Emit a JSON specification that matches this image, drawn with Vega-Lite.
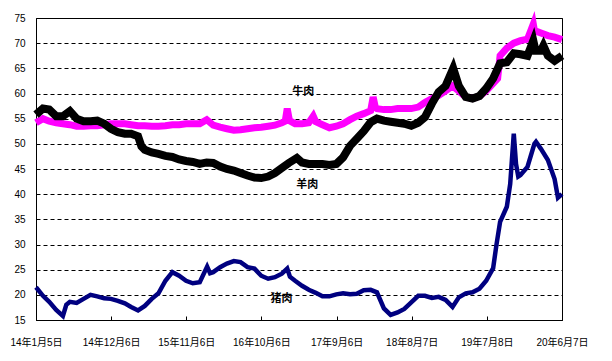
{
  "$schema": "https://vega.github.io/schema/vega-lite/v6.json",
  "width": 526,
  "height": 302,
  "autosize": "none",
  "padding": {"left": 36, "top": 18, "right": 50, "bottom": 41},
  "background": "white",
  "config": {
    "view": {"stroke": "black", "strokeWidth": 1},
    "axis": {
      "labelFont": "Liberation Sans, Noto Sans CJK SC",
      "labelFontSize": 10,
      "labelColor": "black",
      "domainColor": "black",
      "tickColor": "black",
      "title": null
    }
  },
  "datasets": {
    "beef": [
      {"date": "2014/01/05", "price": 54.2}, {"date": "2014/02/05", "price": 55}, {"date": "2014/03/05", "price": 54.5},
      {"date": "2014/04/05", "price": 54.2}, {"date": "2014/05/05", "price": 54}, {"date": "2014/06/05", "price": 53.8},
      {"date": "2014/07/05", "price": 53.5}, {"date": "2014/08/05", "price": 53.5}, {"date": "2014/09/05", "price": 53.6},
      {"date": "2014/10/05", "price": 53.6}, {"date": "2014/11/05", "price": 53.8}, {"date": "2014/12/05", "price": 54},
      {"date": "2015/01/05", "price": 54}, {"date": "2015/02/05", "price": 54}, {"date": "2015/03/05", "price": 53.8},
      {"date": "2015/04/05", "price": 53.6}, {"date": "2015/05/05", "price": 53.6}, {"date": "2015/06/05", "price": 53.5},
      {"date": "2015/07/05", "price": 53.5}, {"date": "2015/08/05", "price": 53.6}, {"date": "2015/09/05", "price": 53.8},
      {"date": "2015/10/05", "price": 53.8}, {"date": "2015/11/05", "price": 54}, {"date": "2015/12/05", "price": 54},
      {"date": "2016/01/05", "price": 54}, {"date": "2016/02/05", "price": 54.8}, {"date": "2016/03/05", "price": 53.7},
      {"date": "2016/04/05", "price": 53.3}, {"date": "2016/05/05", "price": 53}, {"date": "2016/06/05", "price": 52.7},
      {"date": "2016/07/05", "price": 52.8}, {"date": "2016/08/05", "price": 53}, {"date": "2016/09/05", "price": 53.2},
      {"date": "2016/10/05", "price": 53.3}, {"date": "2016/11/05", "price": 53.5}, {"date": "2016/12/05", "price": 53.7},
      {"date": "2017/01/05", "price": 54.2}, {"date": "2017/01/20", "price": 54.5}, {"date": "2017/01/29", "price": 57},
      {"date": "2017/02/08", "price": 54.6}, {"date": "2017/03/05", "price": 54}, {"date": "2017/04/05", "price": 54},
      {"date": "2017/05/05", "price": 54.2}, {"date": "2017/05/25", "price": 55.5}, {"date": "2017/06/05", "price": 54.4},
      {"date": "2017/07/05", "price": 53.8}, {"date": "2017/08/05", "price": 53.2}, {"date": "2017/09/05", "price": 53.5},
      {"date": "2017/10/05", "price": 54}, {"date": "2017/11/05", "price": 54.8}, {"date": "2017/12/05", "price": 55.5},
      {"date": "2018/01/05", "price": 56}, {"date": "2018/02/05", "price": 56.6}, {"date": "2018/02/16", "price": 59.3},
      {"date": "2018/02/26", "price": 57.2}, {"date": "2018/03/05", "price": 57}, {"date": "2018/04/05", "price": 56.8},
      {"date": "2018/05/05", "price": 56.8}, {"date": "2018/06/05", "price": 57}, {"date": "2018/07/05", "price": 57},
      {"date": "2018/08/05", "price": 57}, {"date": "2018/09/05", "price": 57.3}, {"date": "2018/10/05", "price": 58.2},
      {"date": "2018/11/05", "price": 59}, {"date": "2018/12/05", "price": 59.6}, {"date": "2019/01/05", "price": 60.5},
      {"date": "2019/02/05", "price": 61.5}, {"date": "2019/03/05", "price": 60.5}, {"date": "2019/04/05", "price": 59.3},
      {"date": "2019/05/05", "price": 59}, {"date": "2019/06/05", "price": 59.5}, {"date": "2019/07/05", "price": 60.5},
      {"date": "2019/08/05", "price": 62}, {"date": "2019/08/25", "price": 63}, {"date": "2019/09/05", "price": 67.5},
      {"date": "2019/10/05", "price": 69}, {"date": "2019/11/05", "price": 70}, {"date": "2019/12/05", "price": 70.5},
      {"date": "2020/01/05", "price": 70.8}, {"date": "2020/01/31", "price": 73.8}, {"date": "2020/02/05", "price": 72.5},
      {"date": "2020/03/05", "price": 72}, {"date": "2020/04/05", "price": 71.5}, {"date": "2020/05/05", "price": 71.2},
      {"date": "2020/06/07", "price": 70.7}
    ],
    "mutton": [
      {"date": "2014/01/05", "price": 55.8}, {"date": "2014/02/05", "price": 57}, {"date": "2014/03/05", "price": 56.8},
      {"date": "2014/04/05", "price": 55.5}, {"date": "2014/05/05", "price": 55.5}, {"date": "2014/06/05", "price": 56.5},
      {"date": "2014/07/05", "price": 55}, {"date": "2014/08/05", "price": 54.5}, {"date": "2014/09/05", "price": 54.5},
      {"date": "2014/10/05", "price": 54.6}, {"date": "2014/11/05", "price": 54}, {"date": "2014/12/05", "price": 53},
      {"date": "2015/01/05", "price": 52.3}, {"date": "2015/02/05", "price": 52}, {"date": "2015/03/05", "price": 52},
      {"date": "2015/04/05", "price": 51.5}, {"date": "2015/04/20", "price": 49.5}, {"date": "2015/05/05", "price": 48.8},
      {"date": "2015/06/05", "price": 48.3}, {"date": "2015/07/05", "price": 48}, {"date": "2015/08/05", "price": 47.6},
      {"date": "2015/09/05", "price": 47.4}, {"date": "2015/10/05", "price": 46.9}, {"date": "2015/11/05", "price": 46.6},
      {"date": "2015/12/05", "price": 46.4}, {"date": "2016/01/05", "price": 46}, {"date": "2016/02/05", "price": 46.3},
      {"date": "2016/03/05", "price": 46.2}, {"date": "2016/04/05", "price": 45.5}, {"date": "2016/05/05", "price": 45},
      {"date": "2016/06/05", "price": 44.7}, {"date": "2016/07/05", "price": 44.2}, {"date": "2016/08/05", "price": 43.7},
      {"date": "2016/09/05", "price": 43.3}, {"date": "2016/10/05", "price": 43.2}, {"date": "2016/11/05", "price": 43.5},
      {"date": "2016/12/05", "price": 44.2}, {"date": "2017/01/05", "price": 45.2}, {"date": "2017/02/05", "price": 46.2},
      {"date": "2017/03/13", "price": 47.2}, {"date": "2017/04/05", "price": 46.3}, {"date": "2017/05/05", "price": 46},
      {"date": "2017/06/05", "price": 46}, {"date": "2017/07/05", "price": 46}, {"date": "2017/08/05", "price": 45.8},
      {"date": "2017/09/05", "price": 46}, {"date": "2017/10/05", "price": 47.3}, {"date": "2017/11/05", "price": 49.6},
      {"date": "2017/12/05", "price": 51}, {"date": "2018/01/05", "price": 52.5}, {"date": "2018/02/05", "price": 54.3},
      {"date": "2018/03/05", "price": 55}, {"date": "2018/04/05", "price": 54.6}, {"date": "2018/05/05", "price": 54.4},
      {"date": "2018/06/05", "price": 54.2}, {"date": "2018/07/05", "price": 54}, {"date": "2018/08/05", "price": 53.6},
      {"date": "2018/09/05", "price": 54.2}, {"date": "2018/10/05", "price": 55.3}, {"date": "2018/11/05", "price": 58},
      {"date": "2018/12/05", "price": 60.3}, {"date": "2019/01/05", "price": 61.5}, {"date": "2019/02/08", "price": 65},
      {"date": "2019/03/05", "price": 61.5}, {"date": "2019/04/05", "price": 59.3}, {"date": "2019/05/05", "price": 59},
      {"date": "2019/06/05", "price": 59.5}, {"date": "2019/07/05", "price": 61}, {"date": "2019/08/05", "price": 63},
      {"date": "2019/09/05", "price": 66}, {"date": "2019/10/05", "price": 66.2}, {"date": "2019/11/05", "price": 68},
      {"date": "2019/12/05", "price": 67.8}, {"date": "2020/01/05", "price": 67.5}, {"date": "2020/01/31", "price": 70.5},
      {"date": "2020/02/10", "price": 68.5}, {"date": "2020/03/05", "price": 68.5}, {"date": "2020/03/16", "price": 69.5},
      {"date": "2020/04/05", "price": 67.5}, {"date": "2020/05/05", "price": 66.5}, {"date": "2020/06/07", "price": 67.5}
    ],
    "pork": [
      {"date": "2014/01/05", "price": 21.5}, {"date": "2014/02/05", "price": 19.8}, {"date": "2014/03/05", "price": 18.6},
      {"date": "2014/04/05", "price": 17}, {"date": "2014/05/05", "price": 15.8}, {"date": "2014/05/20", "price": 18},
      {"date": "2014/06/05", "price": 18.6}, {"date": "2014/07/05", "price": 18.4}, {"date": "2014/08/05", "price": 19.2},
      {"date": "2014/09/05", "price": 20}, {"date": "2014/10/05", "price": 19.7}, {"date": "2014/11/05", "price": 19.3},
      {"date": "2014/12/05", "price": 19.2}, {"date": "2015/01/05", "price": 18.8}, {"date": "2015/02/05", "price": 18.3},
      {"date": "2015/03/05", "price": 17.6}, {"date": "2015/04/05", "price": 16.9}, {"date": "2015/05/05", "price": 17.8},
      {"date": "2015/06/05", "price": 19.2}, {"date": "2015/07/05", "price": 20.3}, {"date": "2015/08/05", "price": 22.8},
      {"date": "2015/09/05", "price": 24.5}, {"date": "2015/10/05", "price": 23.8}, {"date": "2015/11/05", "price": 22.8},
      {"date": "2015/12/05", "price": 22.3}, {"date": "2016/01/05", "price": 22.5}, {"date": "2016/02/07", "price": 25.6},
      {"date": "2016/02/20", "price": 24.3}, {"date": "2016/03/05", "price": 24.5}, {"date": "2016/04/05", "price": 25.5},
      {"date": "2016/05/05", "price": 26.2}, {"date": "2016/06/05", "price": 26.7}, {"date": "2016/07/05", "price": 26.5},
      {"date": "2016/08/05", "price": 25.5}, {"date": "2016/09/05", "price": 25.2}, {"date": "2016/10/05", "price": 23.8},
      {"date": "2016/11/05", "price": 23.2}, {"date": "2016/12/05", "price": 23.5}, {"date": "2017/01/05", "price": 24.2},
      {"date": "2017/01/29", "price": 25.2}, {"date": "2017/02/10", "price": 23.6}, {"date": "2017/03/05", "price": 22.8},
      {"date": "2017/04/05", "price": 21.8}, {"date": "2017/05/05", "price": 21}, {"date": "2017/06/05", "price": 20.4},
      {"date": "2017/07/05", "price": 19.7}, {"date": "2017/08/05", "price": 19.7}, {"date": "2017/09/05", "price": 20.1},
      {"date": "2017/10/05", "price": 20.3}, {"date": "2017/11/05", "price": 20.1}, {"date": "2017/12/05", "price": 20.2},
      {"date": "2018/01/05", "price": 20.9}, {"date": "2018/02/05", "price": 21}, {"date": "2018/03/05", "price": 20.5},
      {"date": "2018/04/05", "price": 17.3}, {"date": "2018/05/05", "price": 16}, {"date": "2018/06/05", "price": 16.5},
      {"date": "2018/07/05", "price": 17.2}, {"date": "2018/08/05", "price": 18.5}, {"date": "2018/09/05", "price": 19.8},
      {"date": "2018/10/05", "price": 19.8}, {"date": "2018/11/05", "price": 19.4}, {"date": "2018/12/05", "price": 19.6},
      {"date": "2019/01/05", "price": 19}, {"date": "2019/02/05", "price": 17.6}, {"date": "2019/03/05", "price": 19.5},
      {"date": "2019/04/05", "price": 20.3}, {"date": "2019/05/05", "price": 20.5}, {"date": "2019/06/05", "price": 21.2},
      {"date": "2019/07/05", "price": 22.8}, {"date": "2019/08/05", "price": 25.3}, {"date": "2019/08/20", "price": 30},
      {"date": "2019/09/05", "price": 34.5}, {"date": "2019/10/05", "price": 37.5}, {"date": "2019/10/20", "price": 42},
      {"date": "2019/11/05", "price": 52}, {"date": "2019/11/15", "price": 46}, {"date": "2019/11/25", "price": 43.5},
      {"date": "2019/12/05", "price": 43.8}, {"date": "2020/01/05", "price": 45.4}, {"date": "2020/02/05", "price": 50},
      {"date": "2020/02/12", "price": 50.4}, {"date": "2020/03/05", "price": 49}, {"date": "2020/04/05", "price": 46.8},
      {"date": "2020/05/05", "price": 43}, {"date": "2020/05/20", "price": 39.3}, {"date": "2020/06/07", "price": 40}
    ],
    "labels": [
      {"date": "2017/04/10", "price": 60.2, "label": "牛肉"},
      {"date": "2017/04/28", "price": 41.8, "label": "羊肉"},
      {"date": "2017/01/04", "price": 19.1, "label": "猪肉"}
    ]
  },
  "encoding": {
    "x": {
      "field": "date",
      "type": "temporal",
      "scale": {"domain": [{"year": 2014, "month": 1, "date": 5}, {"year": 2020, "month": 6, "date": 7}]},
      "axis": {
        "values": [
          {"year": 2014, "month": 1, "date": 5}, {"year": 2014, "month": 12, "date": 6},
          {"year": 2015, "month": 11, "date": 6}, {"year": 2016, "month": 10, "date": 6},
          {"year": 2017, "month": 9, "date": 6}, {"year": 2018, "month": 8, "date": 7},
          {"year": 2019, "month": 7, "date": 8}, {"year": 2020, "month": 6, "date": 7}
        ],
        "format": "%y年%-m月%-d日",
        "grid": false,
        "tickSize": -4,
        "labelPadding": 21,
        "labelFlush": false,
        "labelOverlap": false
      }
    },
    "y": {
      "field": "price",
      "type": "quantitative",
      "scale": {"domain": [15, 75], "nice": false, "zero": false},
      "axis": {
        "values": [15, 20, 25, 30, 35, 40, 45, 50, 55, 60, 65, 70, 75],
        "grid": true,
        "gridColor": "black",
        "gridDash": [4, 3],
        "gridWidth": 1,
        "gridOpacity": 1,
        "ticks": false,
        "labelPadding": 11
      }
    }
  },
  "layer": [
    {"data": {"name": "beef"}, "mark": {"type": "line", "color": "#FF00FF", "strokeWidth": 7}, "encoding": {}},
    {"data": {"name": "mutton"}, "mark": {"type": "line", "color": "#000000", "strokeWidth": 8}, "encoding": {}},
    {"data": {"name": "pork"}, "mark": {"type": "line", "color": "#000080", "strokeWidth": 4.5}, "encoding": {}},
    {
      "data": {"name": "labels"},
      "mark": {"type": "text", "font": "Noto Sans CJK SC", "fontSize": 11, "fontWeight": "bold", "color": "black"},
      "encoding": {"text": {"field": "label"}}
    }
  ]
}
